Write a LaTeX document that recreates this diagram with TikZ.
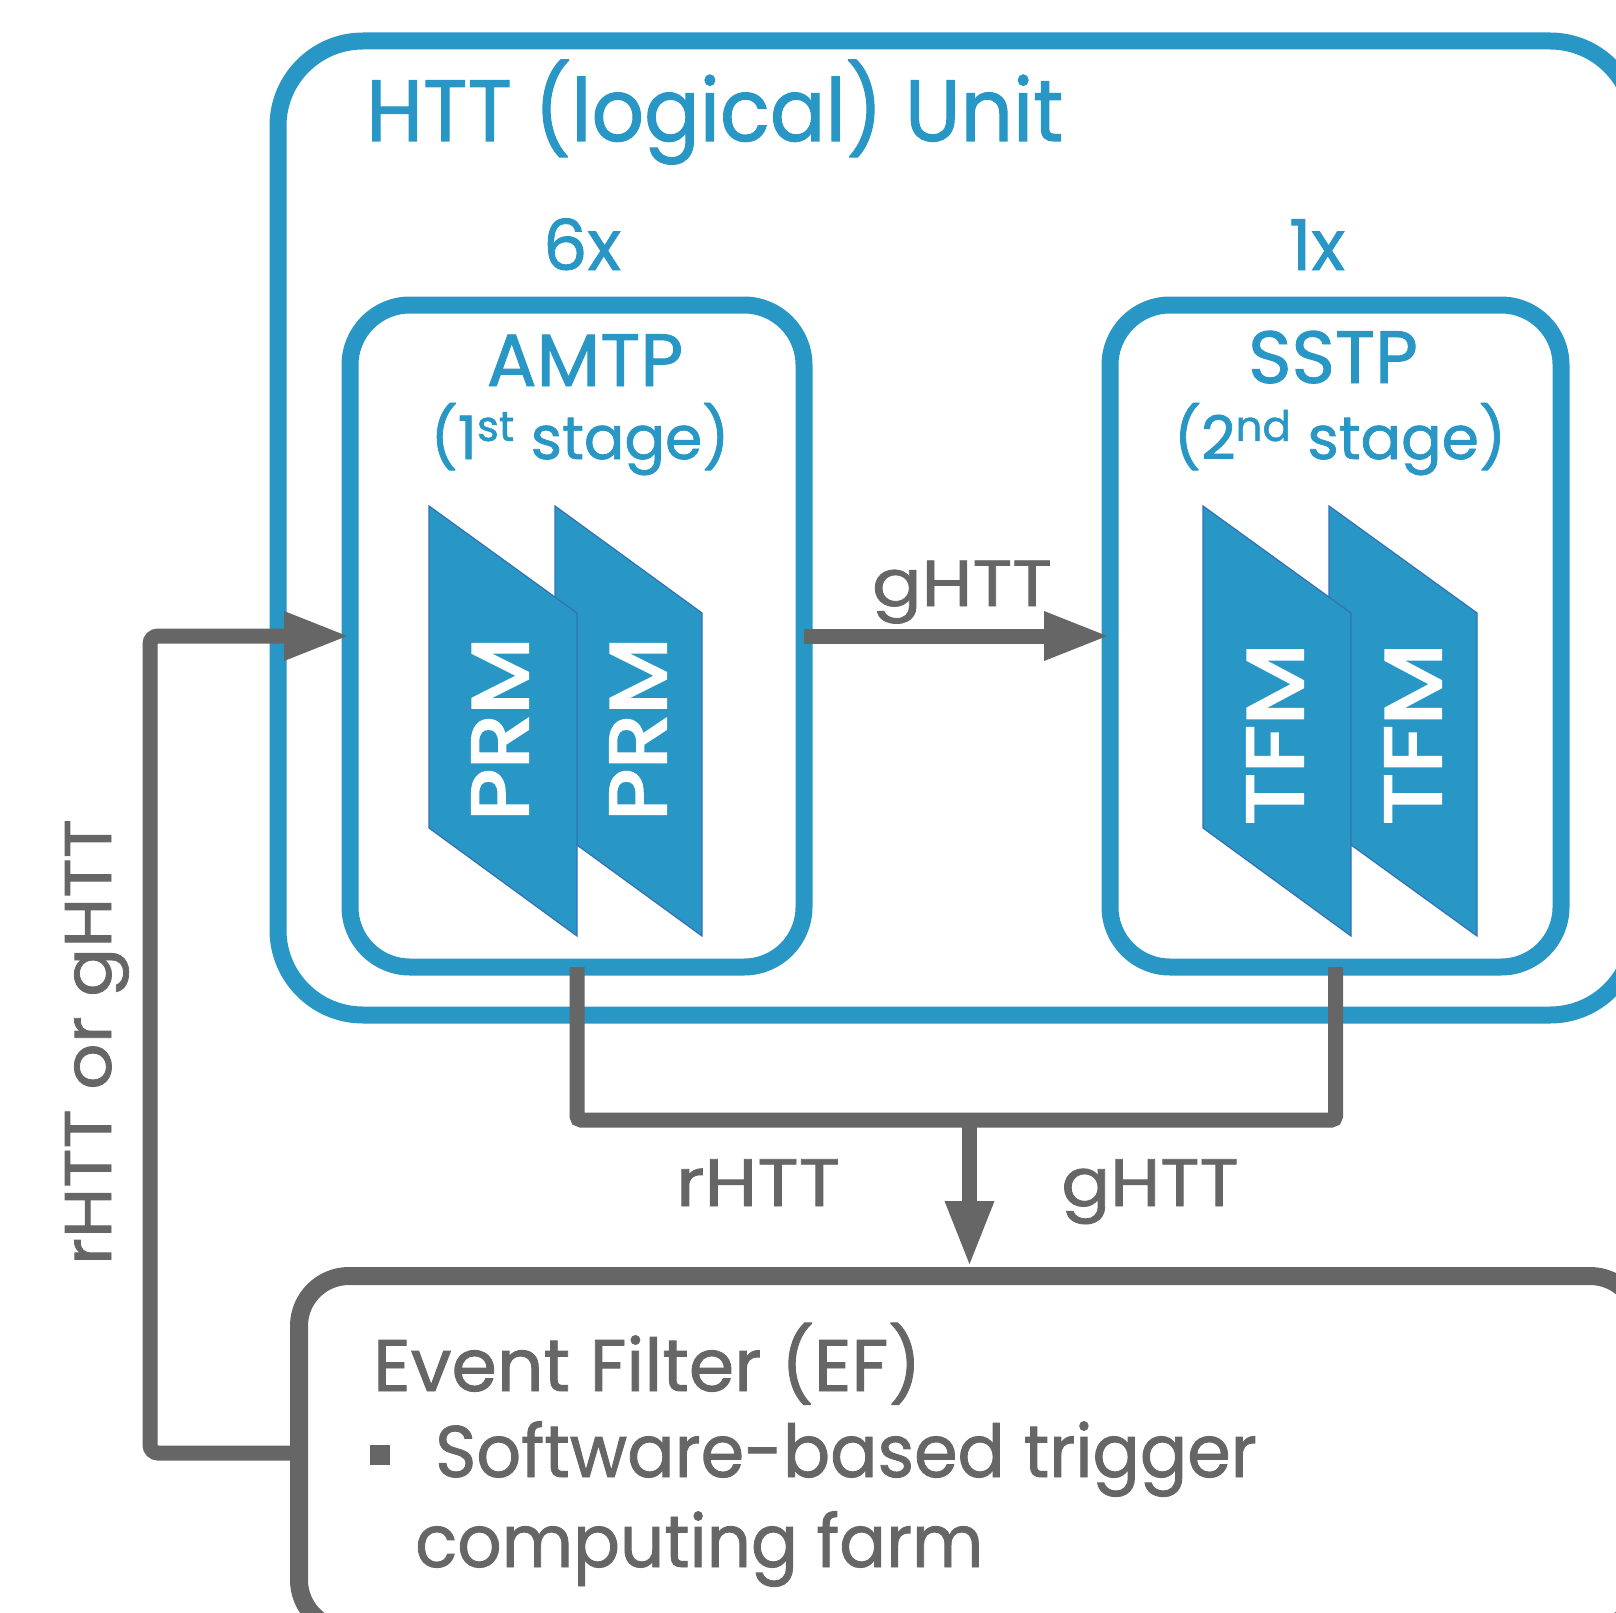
\documentclass[tikz,border=0pt]{standalone}
\usepackage{fontspec}
\usepackage{graphicx}
\setmainfont{Poppins}[FakeBold=1.2]
\newfontfamily\modfont{Poppins}[FakeBold=3]
\usetikzlibrary{arrows.meta,calc}
\definecolor{hblue}{HTML}{2897C5}
\definecolor{hgray}{HTML}{666666}
\definecolor{hedge}{HTML}{3470B4}
\begin{document}
\begin{tikzpicture}[x=1pt,y=-1pt,
  bluebox/.style={draw=hblue, line width=17pt, outer sep=0pt, inner sep=0pt},
  graybox/.style={draw=hgray, line width=18pt, inner sep=0pt, rounded corners=50pt},
  conn/.style={draw=hgray, line width=15pt},
  tipped/.style={-{Triangle[length=66pt,width=45pt]}},
  module/.style={fill=hblue, draw=hedge, line width=1.2pt},
  modtext/.style={text=white, font=\fontsize{80}{80}\modfont, rotate=90, inner sep=0pt},
  bluetext/.style={text=hblue, inner sep=0pt, anchor=base},
  graytext/.style={text=hgray, inner sep=0pt, anchor=base}]
\useasboundingbox (0,0) rectangle (1616,1613);
\clip (0,0) rectangle (1616,1613);

% boxes
\node[bluebox, rounded corners=85pt, minimum width=1357pt, minimum height=974pt] (htt) at (956.5,528) {};
\node[bluebox, rounded corners=60pt, minimum width=454pt, minimum height=662pt] (amtp) at (577,636) {};
\node[bluebox, rounded corners=60pt, minimum width=451pt, minimum height=662pt] (sstp) at (1335.5,636) {};
\node[graybox, minimum width=1341pt, minimum height=354pt] (ef) at (969.5,1453) {};

% titles
\node[bluetext, anchor=base west, font=\fontsize{87}{87}\selectfont] (title) at (366,141) {\scalebox{0.945}[1]{HTT (logical) Unit}};
\node[bluetext, font=\fontsize{70}{70}\selectfont] (n6) at (582,270) {6x};
\node[bluetext, font=\fontsize{70}{70}\selectfont] (n1) at (1317,270) {1x};
\node[bluetext, font=\fontsize{74}{74}\selectfont] (amtpt) at (585,386) {AMTP};
\node[bluetext, font=\fontsize{60}{60}\selectfont] (amtps) at (580,459) {(1\raisebox{0.15em}{\textsuperscript{st}} stage)};
\node[bluetext, font=\fontsize{74}{74}\selectfont] (sstpt) at (1333,383) {SSTP};
\node[bluetext, font=\fontsize{60}{60}\selectfont] (sstps) at (1340,459) {(2\raisebox{0.15em}{\textsuperscript{nd}} stage)};

% modules
\filldraw[module] (555,506) -- (702,613) -- (702,936) -- (555,829) -- cycle;
\filldraw[module] (429,506) -- (577,613) -- (577,936) -- (429,828) -- cycle;
\filldraw[module] (1329,506) -- (1477,613) -- (1477,936) -- (1329,829) -- cycle;
\filldraw[module] (1203,506) -- (1351,613) -- (1351,936) -- (1203,828) -- cycle;
\node[modtext] (prm1) at (500,729) {\scalebox{1.12}[1]{PRM}};
\node[modtext] (prm2) at (638,729) {\scalebox{1.12}[1]{PRM}};
\node[modtext] (tfm1) at (1275,734) {\scalebox{1.19}[1]{TFM}};
\node[modtext] (tfm2) at (1413,734) {\scalebox{1.19}[1]{TFM}};

% connectors
\draw[conn, tipped] (amtp.east) -- (sstp.west);
\node[graytext, font=\fontsize{65}{65}\selectfont] (ghtt1) at (962,606) {\scalebox{1.13}[1]{gHTT}};

\coordinate (lc) at (150,1453);
\draw[conn, tipped, rounded corners=8pt] (ef.west) -- (lc) |- (amtp.west);

\coordinate (junc) at (969.5,1120);
\draw[conn, rounded corners=4pt] (amtp.south) |- (junc) -| (sstp.south);
\draw[conn, tipped] (junc) -- (ef.north);

\node[graytext, font=\fontsize{67}{67}\selectfont] (rhtt) at (758,1206) {\scalebox{1.14}[1]{rHTT}};
\node[graytext, font=\fontsize{67}{67}\selectfont] (ghtt2) at (1150,1206) {\scalebox{1.08}[1]{gHTT}};
\node[graytext, rotate=90, font=\fontsize{66}{66}\selectfont] (side) at (111,1042) {\scalebox{1.1}[1]{rHTT or gHTT}};

% EF text
\node[graytext, anchor=base west, font=\fontsize{73}{73}\selectfont] (eft) at (373,1391) {Event Filter (EF)};
\node[fill=hgray, minimum size=20pt, inner sep=0pt] (bullet) at (379.5,1455) {};
\node[graytext, anchor=base west, font=\fontsize{73}{73}\selectfont] (ef1) at (435,1477) {\scalebox{0.96}[1]{Software-based trigger}};
\node[graytext, anchor=base west, font=\fontsize{73}{73}\selectfont] (ef2) at (415,1567) {\scalebox{0.95}[1]{computing farm}};
\end{tikzpicture}
\end{document}
